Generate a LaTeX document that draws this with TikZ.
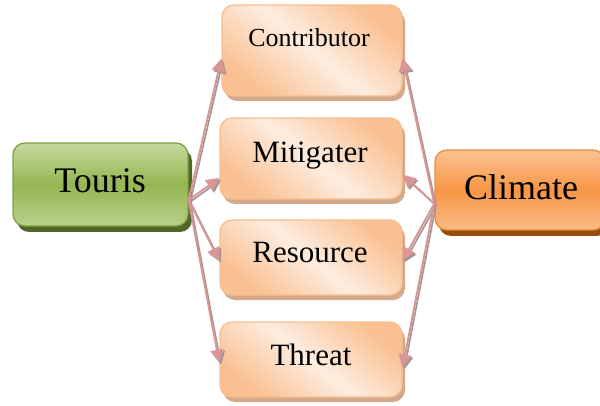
\documentclass[tikz,border=0pt]{standalone}
\usepackage{fontspec}
\setmainfont{Liberation Serif}
\usetikzlibrary{arrows.meta,shadows}

% palette
\definecolor{grnTop}{RGB}{198,217,158}
\definecolor{grnMid}{RGB}{148,182,82}
\definecolor{grnEdge}{RGB}{128,160,70}
\definecolor{grnShadow}{RGB}{82,102,42}
\definecolor{orTop}{RGB}{250,194,146}
\definecolor{orMid}{RGB}{247,150,70}
\definecolor{orEdge}{RGB}{238,140,58}
\definecolor{orShadow}{RGB}{152,76,14}
\definecolor{peachDark}{RGB}{250,192,145}
\definecolor{peachLight}{RGB}{253,237,224}
\definecolor{peachEdge}{RGB}{249,190,142}
\definecolor{peachShadow}{RGB}{212,168,138}
\definecolor{linkPink}{RGB}{217,150,148}
\definecolor{linkShade}{RGB}{160,148,148}

\tikzset{
  basebox/.style={rounded corners=12pt, line width=1.3pt, inner sep=0pt},
  peachbox/.style={basebox, draw=peachEdge,
    top color=peachDark, bottom color=peachDark, middle color=peachLight,
    shading angle=-40,
    drop shadow={fill=peachShadow, opacity=1, shadow xshift=3pt, shadow yshift=-5pt}},
  greenbox/.style={basebox, draw=grnEdge,
    top color=grnTop, bottom color=grnTop!75!grnMid, middle color=grnMid,
    drop shadow={fill=grnShadow, opacity=1, shadow xshift=4pt, shadow yshift=-6pt}},
  orangebox/.style={basebox, draw=orEdge,
    top color=orTop, bottom color=orTop!85!orMid, middle color=orMid,
    drop shadow={fill=orShadow, opacity=1, shadow xshift=4pt, shadow yshift=-6pt}},
  label/.style={text=black, inner sep=0pt, anchor=base},
  bigtext/.style={label, font=\fontsize{36}{40}\selectfont},
  midtext/.style={label, font=\fontsize{31}{36}\selectfont},
  smalltext/.style={label, font=\fontsize{26}{30}\selectfont},
  linkshade/.style={draw=linkShade, line width=1.6pt,
    -{Triangle[length=13pt,width=13pt]}, fill=linkShade,
    transform canvas={xshift=1.6pt, yshift=-1.8pt}},
  link/.style={draw=linkPink, line width=2pt,
    -{Triangle[length=13pt,width=13pt]}, fill=linkPink},
}

\begin{document}
\begin{tikzpicture}[x=1pt, y=-1pt]
\useasboundingbox (0,0) rectangle (600,406);
\clip (0,0) rectangle (600,406);

% boxes
\node[greenbox,  minimum width=175pt, minimum height=83pt] (touris)  at (100.5,184.5) {};
\node[orangebox, minimum width=170pt, minimum height=80pt] (climate) at (520,190) {};
\node[peachbox,  minimum width=180pt, minimum height=91pt] (contrib) at (312,50.5) {};
\node[peachbox,  minimum width=182pt, minimum height=81pt] (mitig)   at (311,158.5) {};
\node[peachbox,  minimum width=182pt, minimum height=75pt] (resrc)   at (311,257.5) {};
\node[peachbox,  minimum width=182pt, minimum height=75pt] (threat)  at (311,359.5) {};

% captions, placed by their baselines
\node[bigtext]   (tourisT)  at (100,193) {Touris};
\node[bigtext]   (climateT) at (521,200) {Climate};
\node[smalltext] (contribT) at (309,47)  {Contributor};
\node[midtext]   (mitigT)   at (310,163) {Mitigater};
\node[midtext]   (resrcT)   at (310,263) {Resource};
\node[midtext]   (threatT)  at (311,365) {Threat};

% connectors: shade first, then the pink line on top
\foreach \s/\t in {touris.-10/contrib.185, touris.-10/mitig.192,
                   touris.-10/resrc.182,  touris.-10/threat.182,
                   climate.189/contrib.-5, climate.189/mitig.-10,
                   climate.189/resrc.-2,  climate.189/threat.-5} {
  \draw[linkshade] (\s) -- (\t);
}
\foreach \s/\t in {touris.-10/contrib.185, touris.-10/mitig.192,
                   touris.-10/resrc.182,  touris.-10/threat.182,
                   climate.189/contrib.-5, climate.189/mitig.-10,
                   climate.189/resrc.-2,  climate.189/threat.-5} {
  \draw[link] (\s) -- (\t);
}
\end{tikzpicture}
\end{document}
